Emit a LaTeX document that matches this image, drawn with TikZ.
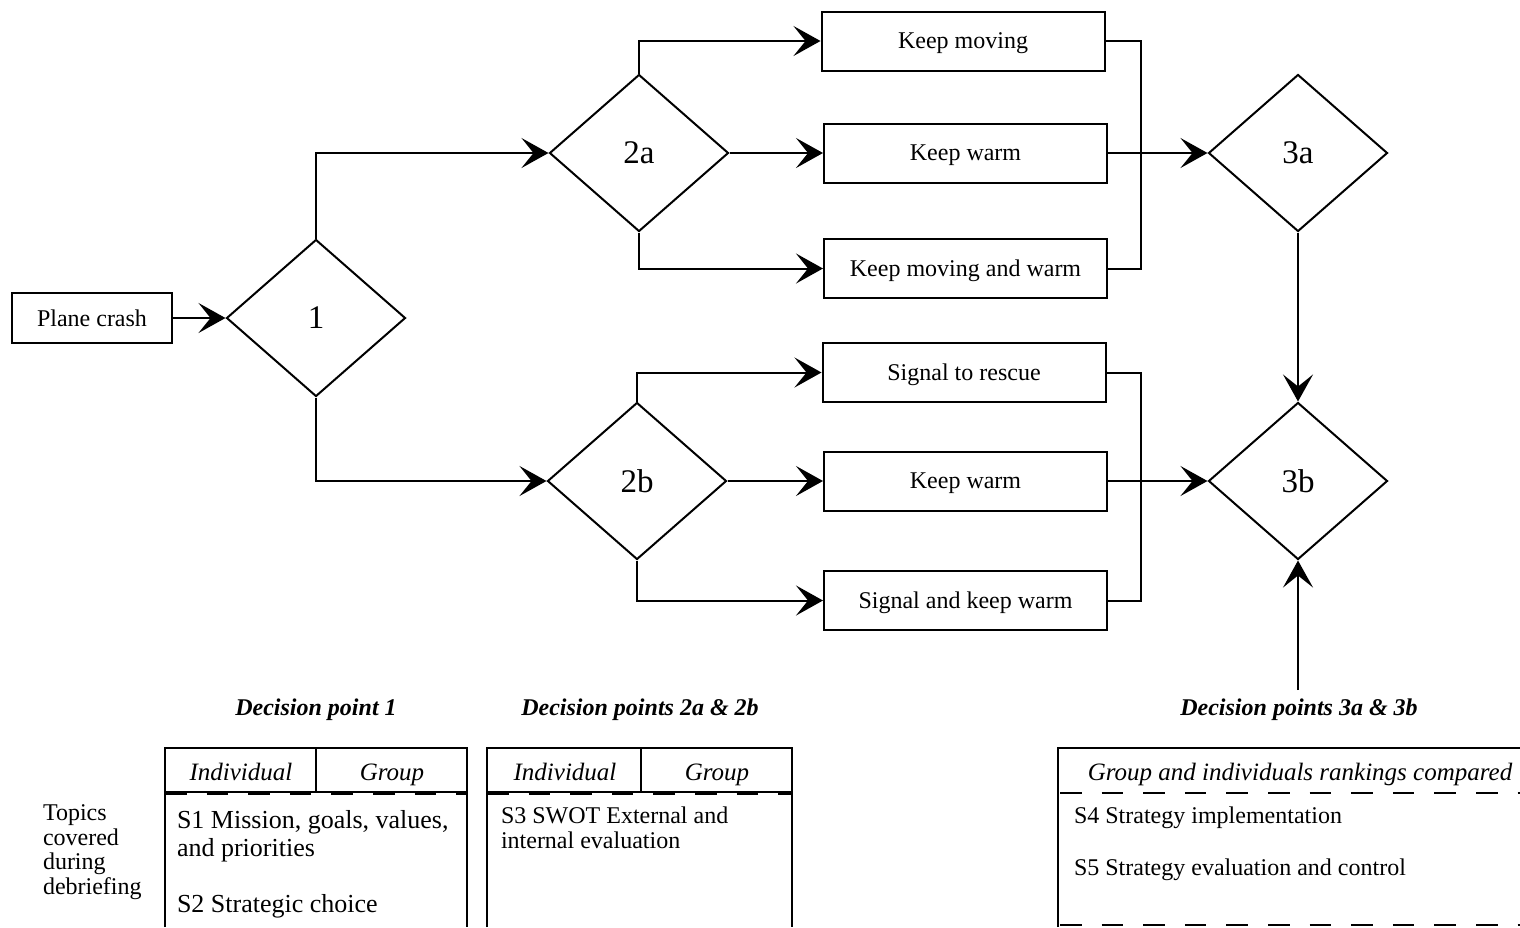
\documentclass[tikz,border=0pt]{standalone}
\usepackage{fontspec}
\setmainfont{Liberation Serif}
\usetikzlibrary{shapes.geometric,arrows.meta}
\begin{document}
\begin{tikzpicture}[x=0.5pt,y=-0.5pt,line width=1pt,
  box/.style={draw, rectangle, minimum width=141.5pt, minimum height=29.5pt, inner sep=0pt, text depth=0pt, font=\fontsize{12}{14}\selectfont},
  dec/.style={draw, diamond, minimum width=89.5pt, minimum height=78.5pt, inner sep=0pt, font=\fontsize{16.5}{18}\selectfont},
  arr/.style={-{Stealth[length=13.5pt,width=15pt,inset=6pt]}},
  title/.style={anchor=base, inner sep=0pt, font=\fontsize{12}{14}\selectfont\bfseries\itshape},
  hdr/.style={anchor=base, inner sep=0pt, font=\fontsize{12.5}{14}\selectfont\itshape},
  bodyA/.style={anchor=base west, inner sep=0pt, font=\fontsize{13}{15}\selectfont},
  bodyB/.style={anchor=base west, inner sep=0pt, font=\fontsize{12}{14}\selectfont},
  dashline/.style={dash pattern=on 10.8pt off 10pt}
]
\useasboundingbox (0,0) rectangle (1520,927);

% flow nodes
\node[box, minimum width=80pt, minimum height=25pt] (pc) at (92,318) {Plane crash};
\node[dec] (d1) at (316,318) {1};
\node[dec] (d2a) at (639,153) {2a};
\node[dec] (d2b) at (637,481) {2b};
\node[box] (km) at (963,41) {Keep moving};
\node[box] (kwa) at (965.5,153) {Keep warm};
\node[box] (kmw) at (965.5,268.5) {Keep moving and warm};
\node[box] (sr) at (964,372.5) {Signal to rescue};
\node[box] (kwb) at (965.5,481) {Keep warm};
\node[box] (skw) at (965.5,600.5) {Signal and keep warm};
\node[dec] (d3a) at (1298,153) {3a};
\node[dec] (d3b) at (1298,481) {3b};

\coordinate (ja) at (1141,153);
\coordinate (jb) at (1141,481);
\coordinate (bot) at (1298,690);

% connectors
\draw[arr] (pc.east) -- (d1.west);
\draw[arr] (d1.north) |- (d2a.west);
\draw[arr] (d1.south) |- (d2b.west);
\draw[arr] (d2a.north) |- (km.west);
\draw[arr] (d2a.east) -- (kwa.west);
\draw[arr] (d2a.south) |- (kmw.west);
\draw[arr] (d2b.north) |- (sr.west);
\draw[arr] (d2b.east) -- (kwb.west);
\draw[arr] (d2b.south) |- (skw.west);
\draw (km.east) -| (ja) |- (kmw.east);
\draw (sr.east) -| (jb) |- (skw.east);
\draw[arr] (kwa.east) -- (d3a.west);
\draw[arr] (kwb.east) -- (d3b.west);
\draw[arr] (d3a.south) -- (d3b.north);
\draw[arr] (bot) -- (d3b.south);

% titles
\node[title] (t1) at (316,715) {Decision point 1};
\node[title] (t2) at (640,715) {Decision points 2a \& 2b};
\node[title] (t3) at (1299,715) {Decision points 3a \& 3b};

% table 1
\draw (165,927) -- (165,748) -- (467,748) -- (467,927);
\draw (316,748) -- (316,792);
\draw (165,792) -- (467,792);
\draw[dashline] (165,794) -- (467,794);
\node[hdr] (i1) at (241,780) {Individual};
\node[hdr] (g1) at (392,780) {Group};
\node[bodyA] (s1a) at (176,828) {S1 Mission, goals, values,};
\node[bodyA] (s1b) at (176,856) {and priorities};
\node[bodyA] (s2) at (176,912) {S2 Strategic choice};

\node[bodyB] (tp1) at (42,820) {Topics};
\node[bodyB] (tp2) at (42,845) {covered};
\node[bodyB] (tp3) at (42,869.5) {during};
\node[bodyB] (tp4) at (42,894) {debriefing};

% table 2
\draw (487,927) -- (487,748) -- (792,748) -- (792,927);
\draw (641,748) -- (641,792);
\draw (487,792) -- (792,792);
\draw[dashline] (487,794) -- (792,794);
\node[hdr] (i2) at (565,780) {Individual};
\node[hdr] (g2) at (717,780) {Group};
\node[bodyB] (s3a) at (500,823) {S3 SWOT External and};
\node[bodyB] (s3b) at (500,848) {internal evaluation};

% table 3
\draw (1058,927) -- (1058,748) -- (1520,748);
\draw[dashline] (1060,793) -- (1520,793);
\draw[dashline] (1060,925) -- (1520,925);
\node[hdr] (h3) at (1300,780) {Group and individuals rankings compared};
\node[bodyB] (s4) at (1073,823) {S4 Strategy implementation};
\node[bodyB] (s5) at (1073,875) {S5 Strategy evaluation and control};
\end{tikzpicture}
\end{document}
